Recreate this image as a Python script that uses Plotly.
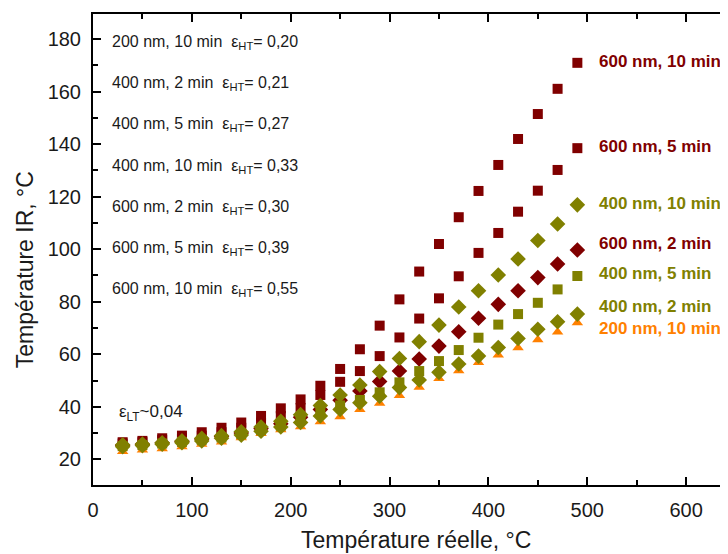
import plotly.graph_objects as go

# ---- data ----
t_real = [30, 50, 70, 90, 110, 130, 150, 170, 190, 210, 230, 250, 270, 290,
          310, 330, 350, 370, 390, 410, 430, 450, 470, 490]

t600_10 = [26.5, 27, 28, 29, 30.3, 32, 34, 36.5, 39.4, 42.8, 48, 54.4, 61.9, 70.9,
           80.9, 91.5, 102, 112.2, 122.2, 132.1, 142, 151.5, 161.1, 171]
t600_5 = [26, 26.5, 27.3, 28, 29, 30.3, 32, 34, 36.5, 39.5, 44.5, 49.5, 53.6, 59.3,
          66.4, 73.6, 81.3, 89.7, 98.6, 106.2, 114.3, 122.3, 130.2, 138.5]
t400_10 = [25.5, 25.8, 26.3, 27, 28, 29, 30.5, 32.3, 34.5, 37, 40.5, 44.5, 48.3, 53.4,
           58.4, 64.8, 71.1, 78, 84.2, 90.2, 96.3, 103.3, 109.6, 116.9]
t600_2 = [25.3, 25.7, 26.2, 26.8, 27.7, 28.7, 30, 31.7, 33.5, 36, 39, 42.5, 46, 49.6,
          53.6, 58.2, 63.1, 68.6, 73.7, 79, 84.2, 89.2, 94.4, 99.7]
t400_5 = [25, 25.4, 26, 26.6, 27.4, 28.3, 29.6, 31.2, 32.8, 35, 37.8, 40.5, 42.6, 45.5,
          49.3, 53.6, 57.4, 61.6, 66.3, 71.3, 75.3, 79.6, 84.7, 89.8]
t400_2 = [24.8, 25.2, 25.7, 26.3, 27, 28, 29.2, 30.7, 32.3, 34, 36.5, 39, 41.5, 44,
          47.3, 50.2, 53.1, 56.3, 59.3, 62.6, 66, 69.5, 72.4, 75.3]
t200_10 = [23, 23.5, 24, 24.8, 25.7, 26.6, 28.2, 29.8, 31.2, 32.4, 34.3, 36.2, 39, 41.3,
           44.3, 47.4, 50.8, 53.7, 56.9, 59.7, 62.5, 65.5, 68.5, 72]

right_labels = ["600 nm, 10 min", "600 nm, 5 min", "400 nm, 10 min", "600 nm, 2 min",
                "400 nm, 5 min", "400 nm, 2 min", "200 nm, 10 min"]
right_label_y = [171.5, 139.1, 117.5, 102.3, 90.9, 78.1, 70.0]

left_samples = ["200 nm, 10 min", "400 nm, 2 min", "400 nm, 5 min", "400 nm, 10 min",
                "600 nm, 2 min", "600 nm, 5 min", "600 nm, 10 min"]
eps_ht = ["0,20", "0,21", "0,27", "0,33", "0,30", "0,39", "0,55"]
left_label_y = [178.7, 163.2, 147.4, 131.5, 116.0, 100.4, 84.8]

MAROON = "#800000"
OLIVE = "#808000"
ORANGE = "#FF8000"
FONT = "Liberation Sans, Arial, sans-serif"

series = [
    (t200_10, "triangle-up", 10, ORANGE, "200 nm, 10 min"),
    (t600_10, "square", 10, MAROON, "600 nm, 10 min"),
    (t600_5, "square", 10, MAROON, "600 nm, 5 min"),
    (t600_2, "diamond", 12, MAROON, "600 nm, 2 min"),
    (t400_5, "square", 10, OLIVE, "400 nm, 5 min"),
    (t400_2, "diamond", 12, OLIVE, "400 nm, 2 min"),
    (t400_10, "diamond", 12, OLIVE, "400 nm, 10 min"),
]

fig = go.Figure()
for ys, sym, sz, col, name in series:
    fig.add_trace(go.Scatter(
        x=t_real, y=ys, mode="markers", name=name,
        marker=dict(symbol=sym, size=sz, color=col, line=dict(width=0)),
        showlegend=False, cliponaxis=False))

# right-side tick marks (axis line itself is outside the picture)
fig.add_trace(go.Scatter(x=[None], y=[None], yaxis="y2", showlegend=False))

label_colors = [MAROON, MAROON, OLIVE, MAROON, OLIVE, OLIVE, ORANGE]
annotations = []
for txt, yv, col in zip(right_labels, right_label_y, label_colors):
    annotations.append(dict(x=509.5, y=yv, xref="x", yref="y", text="<b>" + txt + "</b>",
                            showarrow=False, xanchor="left", yanchor="middle",
                            font=dict(family=FONT, size=17, color=col)))
for s, e, yv in zip(left_samples, eps_ht, left_label_y):
    annotations.append(dict(x=17.6, y=yv, xref="x", yref="y",
                            text=s + "\u00a0\u00a0ε<sub>HT</sub>= " + e,
                            showarrow=False, xanchor="left", yanchor="middle",
                            font=dict(family=FONT, size=16, color="#1a1a1a")))
annotations.append(dict(x=24, y=37.6, xref="x", yref="y", text="ε<sub>LT</sub>~0,04",
                        showarrow=False, xanchor="left", yanchor="middle",
                        font=dict(family=FONT, size=17, color="#1a1a1a")))
# axis titles
annotations.append(dict(x=327, y=0, xref="x", yref="paper", yshift=-55,
                        text="Température réelle, °C", showarrow=False,
                        xanchor="center", yanchor="middle",
                        font=dict(family=FONT, size=23, color="#1a1a1a")))
annotations.append(dict(x=0, y=92, xref="paper", yref="y", xshift=-68,
                        text="Température IR, °C", showarrow=False, textangle=-90,
                        xanchor="center", yanchor="middle",
                        font=dict(family=FONT, size=23, color="#1a1a1a")))

axis_common = dict(showgrid=False, zeroline=False, showline=True, linecolor="black",
                   linewidth=2, ticks="inside", tickcolor="black", tickwidth=1.5,
                   ticklen=8, tickfont=dict(family=FONT, size=20, color="#1a1a1a"))

# the page body has an 8px margin: the figure is sized to fill the rest
fig.update_layout(
    width=720, height=546,
    margin=dict(l=85, r=0, t=6, b=69),
    paper_bgcolor="white", plot_bgcolor="white",
    xaxis=dict(range=[0, 642.4], tick0=0, dtick=100, mirror="ticks",
               minor=dict(dtick=50, ticks="inside", ticklen=5, tickwidth=1.5,
                          tickcolor="black"),
               ticklabelstandoff=6, **axis_common),
    yaxis=dict(range=[10.2, 189.6], tick0=0, dtick=20, mirror=False,
               minor=dict(dtick=10, ticks="inside", ticklen=5, tickwidth=1.5,
                          tickcolor="black"),
               ticklabelstandoff=6, **axis_common),
    yaxis2=dict(range=[10.2, 189.6], tick0=0, dtick=20, overlaying="y", side="right",
                showgrid=False, zeroline=False, showline=False, ticks="inside",
                ticklen=3, tickwidth=1.5, tickcolor="black", showticklabels=False),
    annotations=annotations,
)

fig.write_html("out.html")
